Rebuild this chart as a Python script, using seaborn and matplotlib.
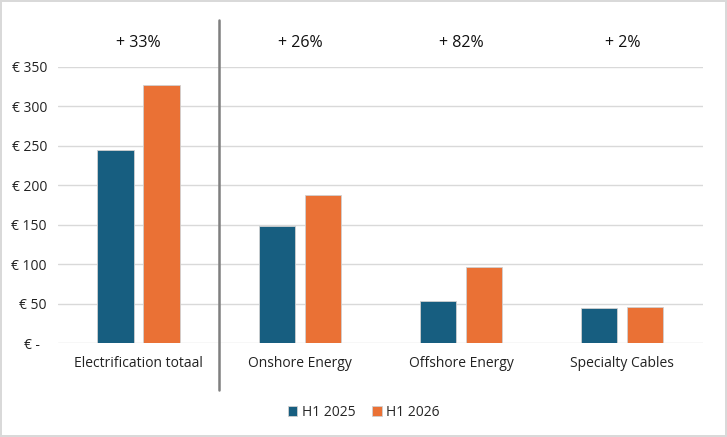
import matplotlib
matplotlib.use("Agg")
import matplotlib.pyplot as plt
import matplotlib.transforms as mtransforms
import pandas as pd
import seaborn as sns

categories = ["Electrification totaal", "Onshore Energy", "Offshore Energy", "Specialty Cables"]
h1_2025 = [245, 148, 53, 45]
h1_2026 = [327, 187, 97, 46]
growth_labels = ["+ 33%", "+ 26%", "+ 82%", "+ 2%"]
series_names = ["H1 2025", "H1 2026"]
y_ticks = [0, 50, 100, 150, 200, 250, 300, 350]
y_tick_labels = ["€ -  ", "€ 50", "€ 100", "€ 150", "€ 200", "€ 250", "€ 300", "€ 350"]

BLUE = "#175e80"
ORANGE = "#ea7135"

df = pd.DataFrame({
    "category": categories * 2,
    "period": [series_names[0]] * len(categories) + [series_names[1]] * len(categories),
    "value": h1_2025 + h1_2026,
})

sns.set_theme(style="white")
plt.rcParams["font.family"] = ["Open Sans", "DejaVu Sans"]

fig = plt.figure(figsize=(7.27, 4.37), dpi=100)
fig.patch.set_edgecolor("#d9d9d9")
fig.patch.set_linewidth(1.5)
ax = fig.add_axes([0.0798, 0.215, 0.887, 0.632])

sns.barplot(data=df, x="category", y="value", hue="period",
            palette=[BLUE, ORANGE], saturation=1, width=0.57, gap=0.21,
            edgecolor="#d0d0d0", linewidth=0.6, ax=ax, legend=True)

ax.set_ylim(0, 350)
ax.set_xlim(-0.5, len(categories) - 0.5)
ax.set_yticks(y_ticks)
ax.set_yticklabels(y_tick_labels, fontsize=10, color="#222222")
ax.tick_params(axis="x", labelsize=10, colors="#222222", pad=9)
ax.tick_params(axis="y", pad=8, length=0)
ax.tick_params(axis="x", length=0)
ax.set_xlabel("")
ax.set_ylabel("")
for s in ax.spines.values():
    s.set_visible(False)
ax.yaxis.grid(True, color="#d9d9d9", linewidth=1)
ax.set_axisbelow(True)

# growth percentages above each group
trans = mtransforms.blended_transform_factory(ax.transData, ax.transAxes)
for i, lab in enumerate(growth_labels):
    ax.text(i, 1.085, lab, transform=trans,
            ha="center", va="center", fontsize=11.5, color="#111111")

# separator between total and segments
ax.plot([0.5, 0.5], [-0.17, 1.17], transform=trans, color="#7f7f7f",
        linewidth=1.8, clip_on=False, zorder=5)

handles, labels = ax.get_legend_handles_labels()
ax.legend_.remove()
fig.legend(handles, labels, loc="center", bbox_to_anchor=(0.5, 0.057), ncol=2,
           frameon=False, fontsize=10, handlelength=0.7, handleheight=0.7,
           handletextpad=0.3, columnspacing=1.2)

fig.savefig("out.png", dpi=100, edgecolor=fig.get_edgecolor())
